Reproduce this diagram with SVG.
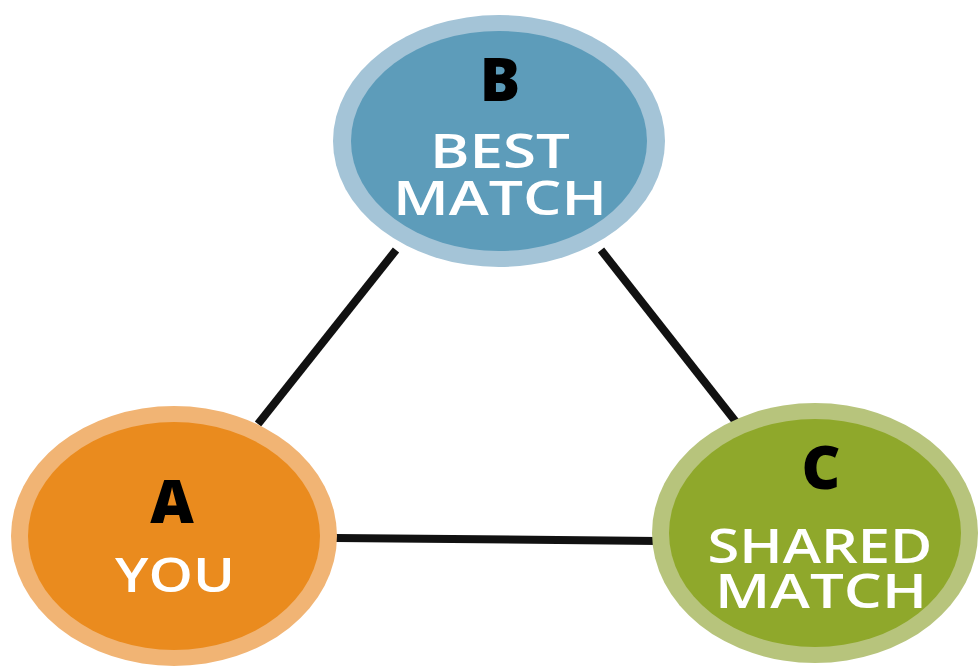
<svg xmlns="http://www.w3.org/2000/svg" width="979" height="667" viewBox="0 0 979 667">
  <style>
    .letter { font-family: "Open Sans", "Liberation Sans", sans-serif; font-weight: 800; font-size: 60px; fill: #000; text-anchor: middle; }
    .label { font-family: "Open Sans", "Liberation Sans", sans-serif; font-weight: 600; font-size: 47px; fill: #ffffff; text-anchor: middle; }
    .edge { stroke: #111; stroke-width: 8; stroke-linecap: butt; fill: none; }
  </style>
  <rect width="979" height="667" fill="#ffffff"/>
  <g id="connectors">
    <line class="edge" x1="258" y1="424" x2="396" y2="250"/>
    <line class="edge" x1="601" y1="250" x2="736" y2="422"/>
    <line class="edge" x1="336" y1="538" x2="658" y2="541"/>
  </g>
  <g id="node-b">
    <ellipse cx="499" cy="141" rx="166" ry="126" fill="#a4c4d7"/>
    <ellipse cx="499" cy="141" rx="148" ry="110" fill="#5d9cba"/>
    <text class="letter" x="500" y="101">B</text>
    <text class="label" x="500" y="168" textLength="140" lengthAdjust="spacingAndGlyphs">BEST</text>
    <text class="label" x="500" y="215" textLength="214" lengthAdjust="spacingAndGlyphs">MATCH</text>
  </g>
  <g id="node-a">
    <ellipse cx="174" cy="536" rx="163" ry="130" fill="#f1b474"/>
    <ellipse cx="174" cy="536" rx="146" ry="114" fill="#ea8b1e"/>
    <text class="letter" x="172" y="523">A</text>
    <text class="label" x="175" y="592" textLength="120" lengthAdjust="spacingAndGlyphs">YOU</text>
  </g>
  <g id="node-c">
    <ellipse cx="815" cy="533" rx="163" ry="130" fill="#b7c47c"/>
    <ellipse cx="815" cy="533" rx="146" ry="114" fill="#8fa82b"/>
    <text class="letter" x="821" y="489">C</text>
    <text class="label" x="820" y="563" textLength="225" lengthAdjust="spacingAndGlyphs">SHARED</text>
    <text class="label" x="821" y="608" textLength="212" lengthAdjust="spacingAndGlyphs">MATCH</text>
  </g>
</svg>
